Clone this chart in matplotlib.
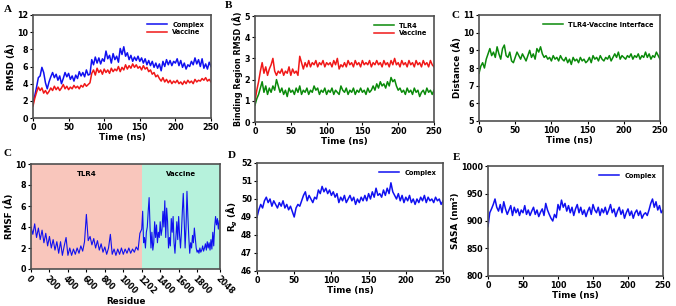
import numpy as np
import matplotlib
matplotlib.use("Agg")
import matplotlib.pyplot as plt

# ---- data (time in ns, 0..250) ----
rmsd_complex = [1.8, 2.6, 3.6, 4.7, 4.9, 5.9, 5.3, 4.1, 3.4, 4.2, 4.8, 5.3, 4.7, 5.1, 4.4, 4.9, 4.0, 4.6, 5.3, 4.8,
                5.2, 4.5, 4.9, 4.3, 5.0, 4.6, 5.4, 4.9, 5.3, 4.8, 5.6, 5.0, 5.1, 6.8, 6.2, 7.1, 6.4, 7.0, 6.3, 6.9,
                6.6, 7.8, 6.9, 7.3, 6.4, 7.5, 6.8, 7.2, 6.5, 8.1, 7.4, 8.3, 7.2, 7.6, 6.8, 7.3, 6.6, 7.1, 6.7, 7.2,
                6.6, 7.0, 6.4, 6.9, 6.2, 6.7, 6.1, 6.6, 5.9, 6.4, 5.8, 6.3, 5.5, 6.6, 6.0, 6.8, 6.2, 6.7, 6.1, 6.6,
                6.4, 6.9, 6.1, 6.7, 5.9, 6.4, 5.7, 6.2, 6.0, 6.6, 6.2, 7.0, 6.3, 6.8, 6.0, 6.9, 5.8, 6.3, 5.7, 6.5, 6.0]
rmsd_vaccine = [1.4, 2.3, 3.0, 3.6, 3.2, 3.5, 2.9, 3.2, 2.8, 3.1, 3.5, 3.2, 3.7, 3.3, 3.6, 3.2, 3.5, 3.9, 3.4, 3.7,
                3.3, 3.6, 3.4, 3.8, 3.5, 3.7, 3.4, 3.8, 3.6, 4.0, 3.7, 3.9, 4.1, 5.2, 5.6, 5.0, 5.8, 5.3, 5.6, 5.1,
                5.7, 5.3, 5.6, 5.2, 5.8, 5.4, 5.7, 5.5, 6.0, 5.4, 5.9, 5.6, 6.2, 5.7, 6.1, 5.8, 6.3, 5.9, 6.2, 5.8,
                6.0, 5.6, 6.1, 5.7, 5.9, 5.4, 5.6, 5.1, 5.3, 4.8, 5.0, 4.6, 4.3, 4.7, 4.2, 4.5, 4.1, 4.4, 4.0, 4.3,
                4.1, 4.4, 4.0, 4.2, 3.9, 4.3, 4.0, 4.4, 4.1, 4.3, 4.0, 4.5, 4.2, 4.4, 4.3, 4.6, 4.4, 4.7, 4.3, 4.5, 4.2]

bind_tlr4 = [0.8, 1.1, 1.3, 1.6, 1.9, 1.4, 1.7, 1.3, 1.6, 1.4, 1.7, 1.5, 2.0, 1.7, 1.4, 1.6, 1.3, 1.5, 1.2, 1.6,
             1.4, 1.5, 1.3, 1.6, 1.4, 1.7, 1.3, 1.5, 1.4, 1.6, 1.3, 1.5, 1.4, 1.7, 1.5, 1.6, 1.3, 1.5, 1.4, 1.6,
             1.3, 1.5, 1.4, 1.6, 1.3, 1.5, 1.4, 1.3, 1.7, 1.5, 1.4, 1.6, 1.3, 1.5, 1.4, 1.6, 1.3, 1.5, 1.4, 1.6,
             1.4, 1.5, 1.3, 1.6, 1.4, 1.5, 1.7, 1.5, 1.8, 1.6, 1.9, 1.7, 1.8, 1.6, 1.9, 1.7, 2.1, 1.9, 2.0, 1.7,
             1.5, 1.6, 1.4, 1.5, 1.3, 1.6, 1.4, 1.5, 1.3, 1.6, 1.4, 1.5, 1.2, 1.4, 1.5, 1.3, 1.6, 1.4, 1.5, 1.3, 1.5]
bind_vaccine = [1.0, 1.5, 1.9, 2.4, 2.8, 2.3, 2.6, 2.2, 2.5, 2.7, 3.0, 2.4, 2.2, 2.4, 2.3, 2.5, 2.2, 2.4, 2.3, 2.6,
                2.2, 2.5, 2.3, 2.4, 2.2, 3.1, 2.8, 2.5, 2.8, 2.6, 2.9, 2.6, 2.8, 2.7, 2.9, 2.6, 2.8, 2.7, 2.9, 2.6,
                2.8, 2.7, 2.8, 2.6, 2.9, 2.7, 3.0, 2.5, 2.7, 2.6, 2.8, 2.6, 2.9, 2.7, 2.8, 2.6, 2.9, 2.7, 2.8, 2.6,
                2.9, 2.7, 2.8, 2.7, 2.9, 2.6, 2.8, 2.7, 2.9, 2.7, 2.8, 2.6, 2.9, 2.7, 2.8, 2.6, 2.9, 2.7, 3.0, 2.7,
                2.8, 2.6, 2.9, 2.7, 2.8, 2.6, 2.9, 2.7, 2.8, 2.6, 2.9, 2.7, 2.8, 2.6, 2.9, 2.7, 2.8, 2.6, 2.9, 2.7, 2.6]

distance = [7.7, 8.1, 8.3, 8.0, 8.5, 8.8, 9.1, 8.7, 8.9, 8.6, 9.2, 8.8, 8.5, 9.1, 9.3, 8.7, 8.6, 8.9, 8.4, 8.3,
            8.6, 8.9, 8.7, 8.5, 8.8, 8.6, 8.4, 8.7, 9.0, 8.6, 8.8, 8.5, 9.1, 8.9, 9.2, 8.8, 8.6, 8.7, 8.5, 8.6,
            8.4, 8.7, 8.5, 8.6, 8.4, 8.7, 8.5, 8.4, 8.6, 8.3, 8.5, 8.2, 8.6, 8.4, 8.5, 8.3, 8.6, 8.4, 8.5, 8.3,
            8.4, 8.6, 8.3, 8.7, 8.5, 8.6, 8.4, 8.7, 8.5, 8.4, 8.6, 8.5, 8.7, 8.4, 8.6, 8.8, 8.6, 8.9, 8.5, 8.7,
            8.6, 8.5, 8.7, 8.6, 8.8, 8.5, 8.7, 8.6, 8.8, 8.5, 8.7, 8.6, 8.9, 8.6, 8.8, 8.5, 8.7, 8.6, 8.9, 8.7, 8.5]

rg_complex = [49.0, 49.4, 49.7, 49.5, 49.9, 50.1, 49.8, 50.0, 49.6, 49.9, 49.7, 49.5, 49.8, 49.6, 49.9, 49.5, 49.7,
              49.4, 49.6, 49.3, 49.0, 49.5, 49.7, 49.6, 49.9, 50.2, 50.4, 49.9, 50.2, 50.0, 49.8, 50.1, 50.0, 50.5,
              50.3, 50.7, 50.4, 50.6, 50.3, 50.5, 50.2, 50.4, 50.1, 50.3, 49.8, 50.1, 49.9, 50.2, 49.8, 50.0, 50.2,
              49.9, 50.1, 49.7, 50.0, 49.8, 50.1, 49.9, 50.2, 49.9, 50.3, 50.0, 50.4, 50.1, 50.6, 50.2, 50.3, 50.1,
              50.5, 50.2, 50.6, 50.3, 50.9, 50.4, 50.2, 50.0, 50.3, 49.9, 50.2, 49.8, 50.1, 49.9, 50.2, 49.8, 50.0,
              49.7, 50.0, 49.8, 50.1, 49.9, 50.2, 49.8, 50.1, 49.9, 50.0, 49.8, 50.1, 49.9, 50.0, 49.7, 49.9]

sasa_complex = [890, 915, 922, 930, 940, 925, 918, 930, 915, 935, 922, 912, 920, 928, 910, 925, 915, 922, 910, 920,
                915, 928, 912, 920, 910, 918, 925, 912, 920, 908, 916, 922, 910, 932, 920, 912, 905, 900, 912, 906,
                930, 920, 938, 925, 932, 918, 928, 915, 925, 910, 922, 930, 915, 925, 912, 920, 908, 918, 925, 912,
                930, 920, 915, 925, 910, 922, 915, 925, 912, 920, 930, 915, 922, 908, 918, 925, 912, 920, 905, 915,
                922, 910, 918, 905, 915, 920, 910, 918, 905, 912, 915, 910, 920, 932, 940, 925, 935, 920, 928, 915, 920]

# RMSF per residue (TLR4 sampled every 20 residues, vaccine every 10)
tlr4_res = list(range(0, 1201, 20))
tlr4_rmsf = [4.0, 3.3, 4.3, 3.0, 3.9, 2.8, 3.7, 2.5, 3.4, 2.2, 3.1, 2.0, 2.8, 1.8, 2.6, 1.5, 2.6, 1.3, 2.2, 3.0,
             1.3, 2.0, 1.3, 1.9, 1.4, 2.0, 1.5, 2.2, 1.7, 2.6, 5.2, 2.7, 3.1, 2.3, 2.9, 2.0, 2.7, 1.8, 2.4, 1.6,
             2.1, 1.4, 2.0, 3.3, 1.4, 1.9, 1.3, 1.9, 1.4, 2.0, 1.4, 1.9, 1.5, 2.0, 1.5, 1.9, 1.6, 2.1, 1.8, 3.4, 3.8]
vac_res = list(range(1210, 2041, 10))
vac_rmsf = [5.5, 2.5, 3.0, 2.0, 3.5, 4.0, 5.5, 6.8, 4.0, 2.0, 3.5, 1.8, 2.5, 4.5, 3.0, 4.2, 2.5, 3.5, 3.0, 4.5,
            3.2, 3.8, 5.5, 4.0, 6.5, 3.0, 5.8, 4.5, 2.0, 3.0, 2.2, 4.8, 3.5, 5.0, 2.5, 1.5, 3.0, 4.5, 2.8, 5.0,
            3.2, 2.0, 3.5, 5.5, 7.2, 4.5, 2.0, 4.0, 7.4, 5.0, 3.0, 1.5, 2.5, 2.0, 3.2, 2.5, 3.9, 3.0, 2.0, 1.6,
            1.8, 1.5, 2.0, 1.6, 1.8, 2.2, 1.7, 2.0, 2.4, 1.8, 2.6, 2.0, 2.5, 1.8, 2.8, 1.9, 3.5, 2.2, 4.0, 5.0,
            4.2, 4.8, 3.8, 4.6]
rmsf_ticks = [0, 200, 400, 600, 800, 1000, 1202, 1400, 1600, 1800, 2048]

BLUE = "#1010f0"
RED = "#f01818"
GREEN = "#0a8a0a"
W, H = 676, 306

plt.rcParams["font.family"] = "DejaVu Sans"
plt.rcParams["font.weight"] = "bold"
plt.rcParams["axes.labelweight"] = "bold"

fig = plt.figure(figsize=(W / 100, H / 100), dpi=100)


def px_axes(l, t, r, b):
    return fig.add_axes([l / W, 1 - b / H, (r - l) / W, (b - t) / H])


def style(ax, xlabel, ylabel, ysize=6.3):
    for s in ax.spines.values():
        s.set_color("#505050")
        s.set_linewidth(1.2)
    ax.tick_params(labelsize=5.8, length=2.5, width=0.8, pad=1, colors="black")
    for lab in ax.get_xticklabels() + ax.get_yticklabels():
        lab.set_fontweight("bold")
    ax.set_xlabel(xlabel, fontsize=6.3, labelpad=1)
    ax.set_ylabel(ylabel, fontsize=ysize, labelpad=1)


def time_axis(arr):
    return np.linspace(0, 250, len(arr))


def legend(ax, loc="upper right"):
    lg = ax.legend(loc=loc, frameon=False, handlelength=3, borderaxespad=0.6,
                   labelspacing=0.2, prop={"weight": "bold", "size": 4.8})
    return lg


def letter(x, y, s):
    fig.text(x / W, 1 - y / H, s, fontsize=8, fontweight="bold", family="Liberation Serif",
             va="center", ha="left")


# A
ax = px_axes(33, 15, 211, 118)
ax.plot(time_axis(rmsd_complex), rmsd_complex, color=BLUE, lw=1.1, label="Complex")
ax.plot(time_axis(rmsd_vaccine), rmsd_vaccine, color=RED, lw=1.1, label="Vaccine")
ax.set_xlim(0, 250)
ax.set_ylim(0, 12)
ax.set_xticks(range(0, 251, 50))
ax.set_yticks(range(0, 13, 2))
style(ax, "Time (ns)", "RMSD (Å)")
legend(ax)
letter(4, 10, "A")

# B
ax = px_axes(255, 16, 434, 122)
ax.plot(time_axis(bind_tlr4), bind_tlr4, color=GREEN, lw=1.1, label="TLR4")
ax.plot(time_axis(bind_vaccine), bind_vaccine, color=RED, lw=1.1, label="Vaccine")
ax.set_xlim(0, 250)
ax.set_ylim(0, 5)
ax.set_xticks(range(0, 251, 50))
ax.set_yticks(range(0, 6))
style(ax, "Time (ns)", "Binding Region RMSD (Å)", ysize=5.8)
legend(ax)
letter(225, 6, "B")

# C (top)
ax = px_axes(479, 15, 660, 121)
ax.plot(time_axis(distance), distance, color=GREEN, lw=1.1, label="TLR4-Vaccine Interface")
ax.set_xlim(0, 250)
ax.set_ylim(5, 11)
ax.set_xticks(range(0, 251, 50))
ax.set_yticks(range(5, 12))
style(ax, "Time (ns)", "Distance (Å)")
legend(ax)
letter(452, 15, "C")

# C (bottom) RMSF
ax = px_axes(31, 164, 220, 269)
ax.axvspan(0, 1202, color="#f9c6bc", lw=0)
ax.axvspan(1202, 2048, color="#b6f2dc", lw=0)
ax.plot(tlr4_res + vac_res, tlr4_rmsf + vac_rmsf, color=BLUE, lw=0.8)
ax.set_xlim(0, 2048)
ax.set_ylim(0, 10)
ax.set_xticks(rmsf_ticks)
ax.set_yticks(range(0, 11, 2))
style(ax, "Residue", "RMSF (Å)")
plt.setp(ax.get_xticklabels(), rotation=-45, ha="left", rotation_mode="anchor")
ax.text(601, 9.0, "TLR4", fontsize=5, fontweight="bold", ha="center", va="center")
ax.text(1625, 9.0, "Vaccine", fontsize=5, fontweight="bold", ha="center", va="center")
letter(3, 153, "C")

# D
ax = px_axes(257, 163, 443, 271)
ax.plot(time_axis(rg_complex), rg_complex, color=BLUE, lw=1.1, label="Complex")
ax.set_xlim(0, 250)
ax.set_ylim(46, 52)
ax.set_xticks(range(0, 251, 50))
ax.set_yticks(range(46, 53))
style(ax, "Time (ns)", "R$_g$ (Å)")
legend(ax)
letter(228, 155, "D")

# E
ax = px_axes(488, 166, 663, 276)
ax.plot(time_axis(sasa_complex), sasa_complex, color=BLUE, lw=1.1, label="Complex")
ax.set_xlim(0, 250)
ax.set_ylim(800, 1000)
ax.set_xticks(range(0, 251, 50))
ax.set_yticks(range(800, 1001, 50))
style(ax, "Time (ns)", "SASA (nm²)")
legend(ax)
letter(453, 157, "E")

fig.savefig("out.png", dpi=100, facecolor="white")
